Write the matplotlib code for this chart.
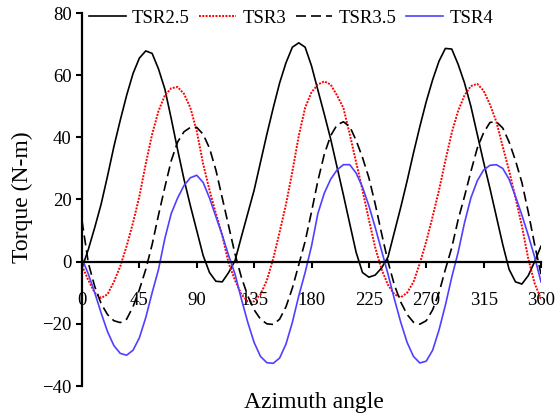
import matplotlib
matplotlib.use('Agg')
import matplotlib.pyplot as plt

plt.rcParams['font.family'] = ['Liberation Serif', 'DejaVu Serif']

# azimuth angle (deg), one sample every 5 degrees
azimuth = list(range(0, 361, 5))

# torque (N-m)
tsr25 = [-2, 4, 11, 18.5, 27.5, 37, 45.5, 53.5, 60.5, 65.5, 67.8, 67, 62, 55.5, 46, 36,
         26.5, 18, 10, 2, -3.5, -6.3, -6.5, -3.5, 0.3, 8, 15.5, 23, 32, 41, 49.5, 57.5,
         64, 69, 70.4, 69, 63, 55.2, 47.5, 39.5, 30.5, 21.5, 12.2, 3, -3.5, -5, -4.3, -2,
         1.5, 9.5, 17.5, 26, 35, 43.5, 51.5, 58.5, 64.5, 68.6, 68.4, 63.5, 57.5, 50, 41, 32,
         23.5, 14.5, 5.5, -2.5, -6.5, -7.2, -4.5, 0, 5]
tsr3 = [-1.3, -6, -10, -11.7, -10.5, -6.5, -1.5, 5, 12.5, 21, 31.5, 41, 48.5, 53.5, 55.8, 56.2,
        54, 49.5, 42, 31.5, 23, 15.5, 8.5, -0.5, -6, -10.5, -12.8, -12.8, -10.5, -6, 1, 9.5,
        18.5, 29, 40.5, 49.5, 54.5, 57, 58, 57, 53.5, 49.5, 41, 32, 23, 13.5, 4.5, -2.5,
        -7.5, -10.5, -11.5, -10, -6.5, -0.5, 6.5, 14.5, 23, 32.5, 41.5, 48.5, 53.5, 56.5, 57.2, 55,
        50.5, 45, 37, 29.2, 20.5, 11.5, 1, -7, -12]
tsr35 = [13.2, -0.5, -8, -13.5, -17, -19, -19.6, -18.5, -14.5, -9, -2.5, 5.5, 15, 24, 32.5, 38.5,
         41.8, 43.2, 43.2, 41, 36.5, 29.5, 20.5, 11.5, 2.5, -5, -11, -15.5, -18.5, -20, -20.2, -18.5,
         -14.5, -8.5, -1, 6.5, 16, 26, 34.5, 40.5, 44, 45, 43.5, 39, 33.5, 27, 18.5, 9,
         0, -7.5, -13, -17, -19.5, -20.1, -19, -15.5, -10, -2.5, 4.5, 13.5, 21, 29, 36.5, 41.5,
         44.8, 45, 43, 38.5, 32.5, 25.5, 16, 5.5, -4]
tsr4 = [1, -4, -10, -16.5, -22.5, -27, -29.5, -30.1, -28.5, -24.5, -18, -10, -2.5, 7.5, 15.5, 20.5,
        24.5, 27, 27.8, 25.5, 20.5, 14.5, 8.5, 2, -4, -12, -19.5, -26, -30.5, -32.5, -32.7, -31,
        -26.5, -19.5, -11, -3.5, 5, 15.5, 22, 26.5, 29.5, 31.2, 31.2, 28.5, 24, 18, 11, 3.5,
        -4, -12, -19.5, -26, -30.5, -32.6, -32, -28.5, -22, -14, -5, 3, 12.5, 20.5, 26, 29.5,
        31, 31.2, 30, 26.5, 21, 15, 8.5, 1.5, -6.5]

labels = ['TSR2.5', 'TSR3', 'TSR3.5', 'TSR4']
xticks = [0, 45, 90, 135, 180, 225, 270, 315, 360]
yticks = [-40, -20, 0, 20, 40, 60, 80]

fig = plt.figure(figsize=(5.57, 4.19), dpi=100)
ax = fig.add_axes([82 / 557, 1 - 386 / 419, 459 / 557, 373 / 419])

lw = 1.2
ax.plot(azimuth, tsr25, color='black', lw=lw, label=labels[0])
ax.plot(azimuth, tsr3, color='#ff0000', lw=1.4, linestyle=(0, (1, 0.7)), label=labels[1])
ax.plot(azimuth, tsr35, color='black', lw=lw, linestyle=(0, (6, 3)), label=labels[2])
ax.plot(azimuth, tsr4, color='#4f3fff', lw=lw, label=labels[3])

ax.set_xlim(0, 360)
ax.set_ylim(-40, 80)
ax.set_xticks(xticks)
ax.set_yticks(yticks)

# axis lines: y on the left, x through zero
ax.spines['top'].set_visible(False)
ax.spines['right'].set_visible(False)
ax.spines['bottom'].set_position(('data', 0))
ax.spines['left'].set_linewidth(1.6)
ax.spines['bottom'].set_linewidth(1.6)
ax.spines['left'].set_zorder(5)
ax.spines['bottom'].set_zorder(5)

ax.tick_params(axis='both', direction='out', length=4.5, width=1.5, labelsize=13.5)
ax.tick_params(axis='x', pad=17)
ax.tick_params(axis='y', pad=3)

fig.text(22 / 557, 1 - 197 / 419, 'Torque (N-m)', rotation=90, ha='center', va='center', fontsize=17)
fig.text(314 / 557, 1 - 402 / 419, 'Azimuth angle', ha='center', va='center', fontsize=17)

fig.legend(loc='center left', bbox_to_anchor=(89 / 557, 1 - 18 / 419), ncol=4, frameon=False,
           fontsize=13.5, handlelength=1.95, handletextpad=0.35, columnspacing=0.5,
           borderpad=0, borderaxespad=0)

fig.savefig('out.png', dpi=100)
